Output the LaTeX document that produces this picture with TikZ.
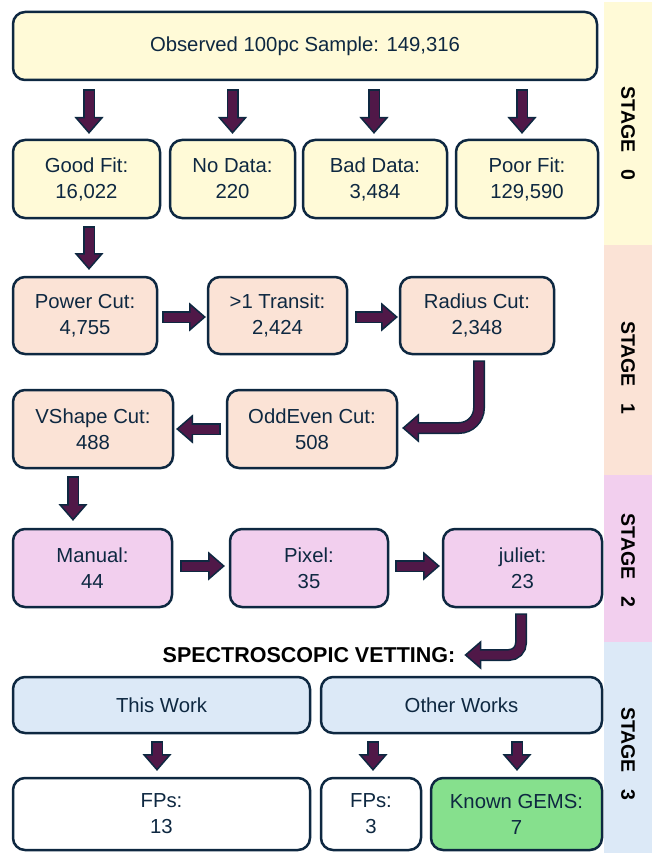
\documentclass[tikz,border=0pt]{standalone}
\usepackage{fontspec}
\setmainfont{Liberation Sans}
\usetikzlibrary{calc}
\definecolor{navy}{HTML}{0E2841}
\definecolor{plum}{HTML}{501848}
\definecolor{yel}{HTML}{FFFAD7}
\definecolor{sal}{HTML}{FBE3D6}
\definecolor{pnk}{HTML}{F2CFEE}
\definecolor{blu}{HTML}{DCE9F7}
\definecolor{grn}{HTML}{86E08D}
\tikzset{
  box/.style={draw=navy, line width=2.5pt, rounded corners=12pt, text=navy,
    align=center, inner sep=0pt, font=\fontsize{20.3}{26}\selectfont},
  stagelbl/.style={rotate=-90, font=\bfseries\fontsize{19.5}{22}\selectfont, text=black},
}
% straight block arrow: start, tip
\newcommand\sarrow[2]{%
  \coordinate (ta) at #1; \coordinate (tb) at #2;
  \coordinate (tc) at ($(tb)!15pt!(ta)$);
  \draw[line width=12pt, navy] (ta) -- (tc);
  \filldraw[fill=plum, draw=navy, line width=1.5pt, line join=miter]
    ($(tc)!13pt!90:(tb)$) -- (tb) -- ($(tc)!13pt!-90:(tb)$) -- cycle;
  \draw[line width=9pt, plum, shorten <=1.5pt, shorten >=-2pt] (ta) -- (tc);
}
% bent block arrow: start (vertical first), tip (horizontal end), radius
\newcommand\barrow[3]{%
  \coordinate (ta) at #1; \coordinate (tb) at #2;
  \coordinate (tc) at ($(tb)!15pt!(ta |- tb)$);
  \draw[line width=12pt, navy, rounded corners=#3] (ta) |- (tc);
  \filldraw[fill=plum, draw=navy, line width=1.5pt, line join=miter]
    ($(tc)!13pt!90:(tb)$) -- (tb) -- ($(tc)!13pt!-90:(tb)$) -- cycle;
  \draw[line width=9pt, plum, rounded corners=#3, shorten <=1.5pt, shorten >=-2pt] (ta) |- (tc);
}
\begin{document}
\begin{tikzpicture}[x=1pt, y=-1pt]
\useasboundingbox (0,0) rectangle (657,853);
% stage bands
\fill[yel] (604,2) rectangle (652,245);
\fill[sal] (604,245) rectangle (652,475);
\fill[pnk] (604,475) rectangle (652,642);
\fill[blu] (604,642) rectangle (652,853);
\node[stagelbl] (s0) at (628,133.5) {STAGE\hspace{17pt}0};
\node[stagelbl] (s1) at (628,368) {STAGE\hspace{17pt}1};
\node[stagelbl] (s2) at (628,560.5) {STAGE\hspace{17pt}2};
\node[stagelbl] (s3) at (628,754) {STAGE\hspace{17pt}3};

% stage 0
\node[box, fill=yel, minimum width=584pt, minimum height=68pt] (top) at (305,46) {Observed 100pc Sample: 149,316};
\node[box, fill=yel, minimum width=147pt, minimum height=78pt] (gf) at (86.5,179) {Good Fit:\\16,022};
\node[box, fill=yel, minimum width=125pt, minimum height=78pt] (nd) at (232.5,179) {No Data:\\220};
\node[box, fill=yel, minimum width=144pt, minimum height=78pt] (bd) at (375,179) {Bad Data:\\3,484};
\node[box, fill=yel, minimum width=142pt, minimum height=78pt] (pf) at (527,179) {Poor Fit:\\129,590};

% stage 1
\node[box, fill=sal, minimum width=144pt, minimum height=77pt] (pc) at (85,315.5) {Power Cut:\\4,755};
\node[box, fill=sal, minimum width=139pt, minimum height=77pt] (tr) at (277.5,315.5) {>1 Transit:\\2,424};
\node[box, fill=sal, minimum width=154pt, minimum height=77pt] (rad) at (477,315.5) {Radius Cut:\\2,348};
\node[box, fill=sal, minimum width=170pt, minimum height=78pt] (odd) at (312,429) {OddEven Cut:\\508};
\node[box, fill=sal, minimum width=160pt, minimum height=78pt] (vs) at (93,429) {VShape Cut:\\488};

% stage 2
\node[box, fill=pnk, minimum width=159pt, minimum height=78pt] (man) at (92.5,568) {Manual:\\44};
\node[box, fill=pnk, minimum width=158pt, minimum height=78pt] (pix) at (309,568) {Pixel:\\35};
\node[box, fill=pnk, minimum width=159pt, minimum height=78pt] (jul) at (522.5,568) {juliet:\\23};

% stage 3
\node[font=\bfseries\fontsize{21.5}{24}\selectfont, text=black, inner sep=0pt] (spec) at (309,655) {SPECTROSCOPIC VETTING:};
\node[box, fill=blu, minimum width=297pt, minimum height=56pt] (tw) at (161.5,705) {This Work};
\node[box, fill=blu, minimum width=281pt, minimum height=56pt] (ow) at (461.5,705) {Other Works};
\node[box, fill=white, minimum width=297pt, minimum height=72pt] (fp13) at (161.5,814) {FPs:\\13};
\node[box, fill=white, minimum width=100pt, minimum height=72pt] (fp3) at (371,814) {FPs:\\3};
\node[box, fill=grn, minimum width=171pt, minimum height=72pt] (gem) at (516.5,814) {Known GEMS:\\7};

% arrows stage 0
\sarrow{($(top.south -| gf.north)+(2.5,8)$)}{($(gf.north)+(2.5,-6)$)}
\sarrow{($(top.south -| nd.north)+(0,8)$)}{($(nd.north)+(0,-6)$)}
\sarrow{($(top.south -| bd.north)+(-1,8)$)}{($(bd.north)+(-1,-6)$)}
\sarrow{($(top.south -| pf.north)+(-5,8)$)}{($(pf.north)+(-5,-6)$)}
\sarrow{($(gf.south)+(2.5,7)$)}{($(pc.north)+(4,-7)$)}
% arrows stage 1
\sarrow{($(pc.east)+(4,1.5)$)}{($(tr.west)+(-2,1.5)$)}
\sarrow{($(tr.east)+(7,1.5)$)}{($(rad.west)+(-2,1.5)$)}
\barrow{($(rad.south)+(2,5)$)}{($(odd.east)+(5,-1)$)}{20pt}
\sarrow{($(odd.west)+(-5,0)$)}{($(vs.east)+(3,0)$)}
\sarrow{($(vs.south)+(-20,7)$)}{($(man.north)+(-19.5,-8)$)}
% arrows stage 2
\sarrow{($(man.east)+(7,-2)$)}{($(pix.west)+(-5,-2)$)}
\sarrow{($(pix.east)+(6,-2)$)}{($(jul.west)+(-3,-2)$)}
\barrow{($(jul.south)+(-1.5,5)$)}{($(spec.east)+(10,0)$)}{12pt}
% arrows stage 3
\sarrow{($(tw.south)+(-4.5,7)$)}{($(fp13.north)+(-4.5,-7)$)}
\sarrow{($(ow.south -| fp3.north)+(2,7)$)}{($(fp3.north)+(2,-7)$)}
\sarrow{($(ow.south -| gem.north)+(0.5,7)$)}{($(gem.north)+(0.5,-7)$)}
\end{tikzpicture}
\end{document}
